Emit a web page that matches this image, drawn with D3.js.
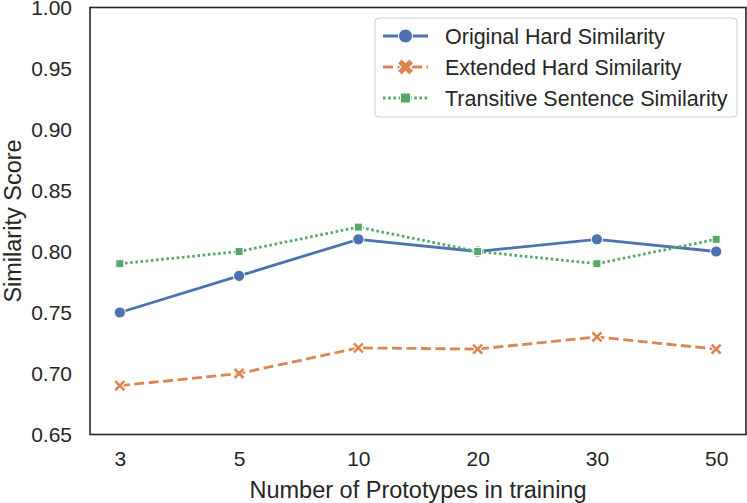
<!DOCTYPE html>
<html>
<head>
<meta charset="utf-8">
<script src="https://cdn.jsdelivr.net/npm/d3@7"></script>
<style>
  body { margin: 0; background: #fff; }
  text { font-family: "Liberation Sans", Arial, sans-serif; fill: #262626; }
</style>
</head>
<body>
<div id="chart"></div>
<script>
const categories = ["3", "5", "10", "20", "30", "50"];
const originalHard = [0.75, 0.78, 0.81, 0.80, 0.81, 0.80];
const extendedHard = [0.69, 0.70, 0.721, 0.72, 0.73, 0.72];
const transitive = [0.79, 0.80, 0.82, 0.80, 0.79, 0.81];
const yTicks = [0.65, 0.70, 0.75, 0.80, 0.85, 0.90, 0.95, 1.00];
const seriesNames = ["Original Hard Similarity", "Extended Hard Similarity", "Transitive Sentence Similarity"];

const W = 747, H = 503;
const M = { left: 90, right: 1, top: 7.5, bottom: 68.5 };

const svg = d3.select("#chart").append("svg")
  .attr("width", W).attr("height", H)
  .attr("xmlns", "http://www.w3.org/2000/svg");

const x = d3.scalePoint()
  .domain(categories)
  .range([M.left, W - M.right])
  .padding(0.25);

const y = d3.scaleLinear()
  .domain([0.65, 1.0])
  .range([H - M.bottom, M.top]);

const series = [
  { name: seriesNames[0], values: originalHard, color: "#4c72b0", dash: null, marker: "circle" },
  { name: seriesNames[1], values: extendedHard, color: "#dd8452", dash: "10,4.5", marker: "x" },
  { name: seriesNames[2], values: transitive, color: "#55a868", dash: "2.6,2.6", marker: "square" }
];

// axes (no tick marks, labels only)
const yAxis = svg.append("g")
  .attr("transform", `translate(${M.left},0)`)
  .call(d3.axisLeft(y).tickValues(yTicks).tickFormat(d3.format(".2f")).tickSize(0).tickPadding(18));
yAxis.select(".domain").remove();
yAxis.selectAll("text").style("font-size", "21px").attr("fill", "#262626")
  .attr("font-family", "Liberation Sans, Arial, sans-serif");

const xAxis = svg.append("g")
  .attr("transform", `translate(0,${H - M.bottom})`)
  .call(d3.axisBottom(x).tickSize(0).tickPadding(17));
xAxis.select(".domain").remove();
xAxis.selectAll("text").style("font-size", "21px").attr("fill", "#262626")
  .attr("font-family", "Liberation Sans, Arial, sans-serif");

// lines
const line = d3.line().x((d, i) => x(categories[i])).y(d => y(d));

series.forEach(s => {
  svg.append("path")
    .datum(s.values)
    .attr("d", line)
    .attr("fill", "none")
    .attr("stroke", s.color)
    .attr("stroke-width", 2.8)
    .attr("stroke-dasharray", s.dash);
});

function drawMarker(g, type, color, cx, cy, scale, bold) {
  if (type === "circle") {
    g.append("circle").attr("cx", cx).attr("cy", cy).attr("r", 5.6 * scale)
      .attr("fill", color).attr("stroke", "#fff").attr("stroke-width", 1);
  } else if (type === "square") {
    const s = 8 * scale;
    g.append("rect").attr("x", cx - s / 2).attr("y", cy - s / 2).attr("width", s).attr("height", s)
      .attr("fill", color).attr("stroke", "#fff").attr("stroke-width", 1);
  } else {
    const sym = d3.symbol(d3.symbolTimes, 55 * scale * scale)();
    const w = bold ? 4.2 : 2.6;
    g.append("path").attr("d", sym).attr("transform", `translate(${cx},${cy})`)
      .attr("fill", "none").attr("stroke", "#fff").attr("stroke-width", (w + 1.9) * scale);
    g.append("path").attr("d", sym).attr("transform", `translate(${cx},${cy})`)
      .attr("fill", "none").attr("stroke", color).attr("stroke-width", w * scale);
  }
}

series.forEach(s => {
  const g = svg.append("g");
  s.values.forEach((v, i) => drawMarker(g, s.marker, s.color, x(categories[i]), y(v), 1, false));
});

// frame
svg.append("rect")
  .attr("x", M.left).attr("y", M.top)
  .attr("width", W - M.right - M.left).attr("height", H - M.bottom - M.top)
  .attr("fill", "none").attr("stroke", "#262626").attr("stroke-width", 1.6);

// axis labels
svg.append("text")
  .attr("x", (M.left + W - M.right) / 2).attr("y", 498)
  .attr("text-anchor", "middle").style("font-size", "23.5px")
  .text("Number of Prototypes in training");

svg.append("text")
  .attr("transform", `translate(20.5,${(M.top + H - M.bottom) / 2}) rotate(-90)`)
  .attr("text-anchor", "middle").style("font-size", "23.5px")
  .text("Similarity Score");

// legend
const lg = svg.append("g");
lg.append("rect")
  .attr("x", 375).attr("y", 18).attr("width", 362).attr("height", 99)
  .attr("rx", 4).attr("fill", "#fff").attr("fill-opacity", 0.8)
  .attr("stroke", "#cccccc").attr("stroke-width", 1);

series.forEach((s, i) => {
  const cy = 36 + i * 31;
  lg.append("line")
    .attr("x1", 383).attr("x2", 428).attr("y1", cy).attr("y2", cy)
    .attr("stroke", s.color).attr("stroke-width", 2.8)
    .attr("stroke-dasharray", s.dash);
  drawMarker(lg, s.marker, s.color, 405.5, cy, 1.25, true);
  lg.append("text")
    .attr("x", 445).attr("y", cy).attr("dy", "0.36em")
    .style("font-size", "21.5px")
    .text(s.name);
});
</script>
</body>
</html>
